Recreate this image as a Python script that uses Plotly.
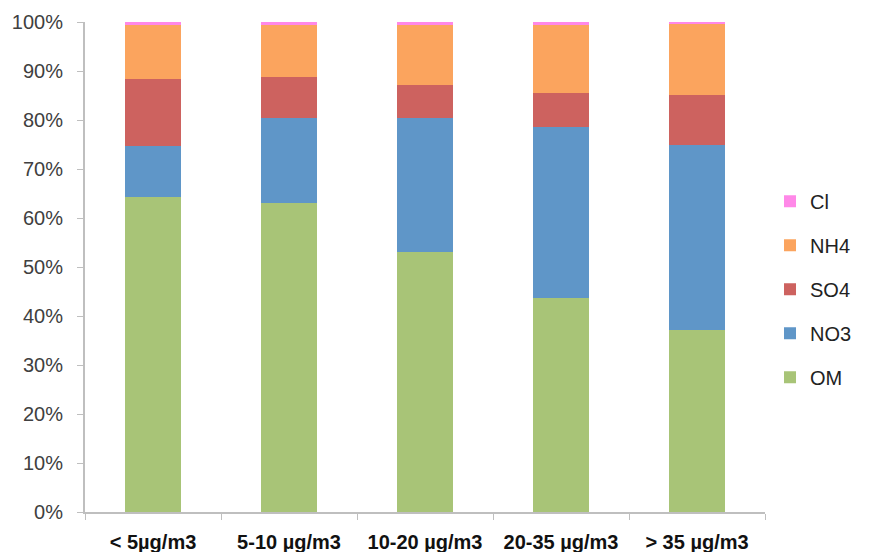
import plotly.graph_objects as go

categories = ["< 5µg/m3", "5-10 µg/m3", "10-20 µg/m3", "20-35 µg/m3", "> 35 µg/m3"]
OM = [64.3, 63.1, 53.1, 43.6, 37.2]
NO3 = [10.3, 17.3, 27.3, 34.9, 37.8]
SO4 = [13.7, 8.3, 6.7, 7.1, 10.2]
NH4 = [11.0, 10.6, 12.2, 13.7, 14.4]
Cl = [0.7, 0.7, 0.7, 0.7, 0.4]

series = [
    ("OM", OM, "#A8C477", 5),
    ("NO3", NO3, "#5F96C8", 4),
    ("SO4", SO4, "#CD625F", 3),
    ("NH4", NH4, "#FBA45E", 2),
    ("Cl", Cl, "#FF88E8", 1),
]

fig = go.Figure()
for name, vals, color, rank in series:
    fig.add_trace(go.Bar(
        name=name, x=categories, y=vals,
        marker=dict(color=color, line=dict(width=0)),
        legendgroup=name, legendrank=rank,
    ))

fig.update_layout(
    barmode="stack",
    bargap=0.59,
    width=862, height=544,
    margin=dict(l=77, r=105, t=14, b=40),
    paper_bgcolor="white", plot_bgcolor="white",
    font=dict(family="Liberation Sans, Arial, sans-serif", size=19, color="#404040"),
    showlegend=True,
    legend=dict(
        traceorder="grouped",
        xref="container", yref="container",
        x=0.884, xanchor="left",
        y=0.483, yanchor="middle",
        font=dict(size=20, color="#222222"),
        tracegroupgap=15,
        itemwidth=30,
        bgcolor="rgba(0,0,0,0)",
    ),
    xaxis=dict(
        automargin=False,
        showline=True, linecolor="#BFBFBF", linewidth=2,
        ticks="outside", tickson="boundaries", ticklen=6, tickcolor="#BFBFBF", tickwidth=1,
        tickfont=dict(size=20, color="#111111", family="Liberation Sans, Arial, sans-serif", weight="bold"),
        ticklabelstandoff=11,
        showgrid=False,
    ),
    yaxis=dict(
        automargin=False,
        range=[0, 100],
        tickvals=[0, 10, 20, 30, 40, 50, 60, 70, 80, 90, 100],
        ticktext=[f"{v}%" for v in range(0, 101, 10)],
        showline=True, linecolor="#BFBFBF", linewidth=2,
        ticks="outside", ticklen=6, tickcolor="#BFBFBF", tickwidth=1,
        tickfont=dict(size=20, color="#404040"),
        ticklabelstandoff=10,
        showgrid=False, zeroline=False,
    ),
)

fig.write_html("out.html")
